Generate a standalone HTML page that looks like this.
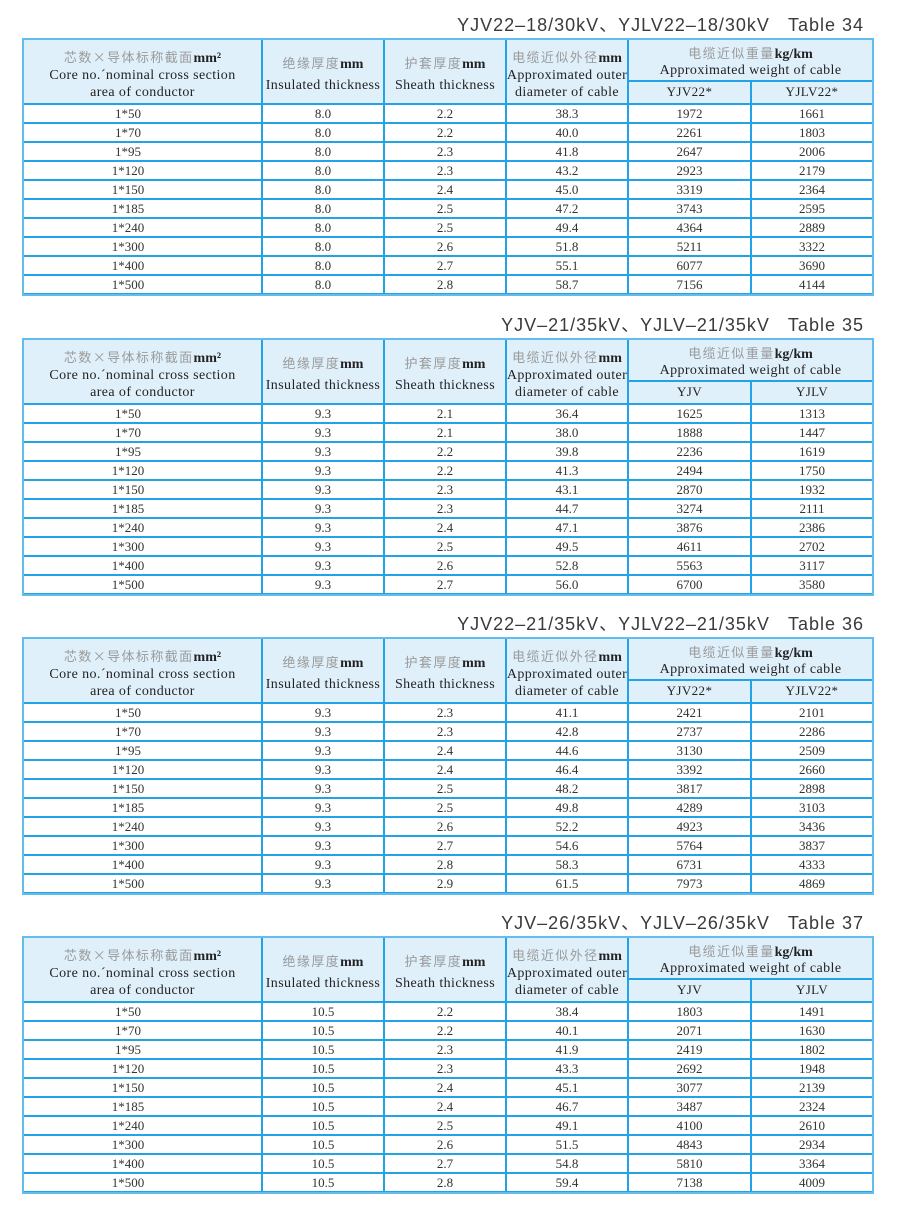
<!DOCTYPE html>
<html><head><meta charset="utf-8">
<style>
html,body{margin:0;padding:0;background:#fff}
body{width:900px;height:1210px;position:relative;overflow:hidden;font-family:"Liberation Serif","Noto Serif CJK SC",serif;color:#333}
.tb{position:absolute;left:0;width:900px;height:260px}
.ttl{position:absolute;right:36px;top:-23px;font-family:"Liberation Sans","Noto Sans CJK SC",sans-serif;font-size:18px;line-height:18px;letter-spacing:1px;color:#3a3a3a;white-space:nowrap}
.hd{position:absolute;left:23px;top:0;width:850px;height:65px;background:#e0f0fb}
.hl{position:absolute;left:23px;top:64px;width:850px;height:192px;background:repeating-linear-gradient(to bottom,#22a3e6 0,#22a3e6 2px,transparent 2px,transparent 19px)}
.v{position:absolute;top:0;height:256px;width:2px;background:#22a3e6}
.sub{position:absolute;left:628px;top:41px;width:245px;height:2px;background:#22a3e6}
.ob{position:absolute;left:22px;top:-1px;width:852px;height:258px;border:2px solid #62bdee;box-sizing:border-box}
.h{position:absolute;text-align:center;font-size:14px;letter-spacing:0.4px;color:#222;white-space:nowrap}
.cn{font-family:"Noto Sans CJK SC",sans-serif;color:#9a9a9a;font-size:13px;letter-spacing:1.4px}
.h b{font-weight:bold;color:#222;letter-spacing:0}
.h1{left:23px;width:239px;top:9px;line-height:17px}
.h2{left:262px;width:122px;top:13px;line-height:21px}
.h3{left:384px;width:122px;top:13px;line-height:21px}
.h4{left:506px;width:122px;top:9px;line-height:17px}
.h5{left:628px;width:245px;top:6px;line-height:16px}
.s1{left:628px;width:123px;top:42px;line-height:21px;font-size:13px}
.s2{left:751px;width:122px;top:42px;line-height:21px;font-size:13px}
.r{position:absolute;left:23px;height:19px;line-height:19px;display:grid;grid-template-columns:239px 122px 122px 122px 123px 122px;font-size:13px;color:#333;text-align:center}
.r span:first-child{padding-right:29px;box-sizing:border-box}
</style></head><body>

<!-- Table 34 -->
<div class="tb" style="top:39px">
<div class="ttl">YJV22–18/30kV、YJLV22–18/30kV&nbsp;&nbsp;&nbsp;Table 34</div>
<div class="hd"></div><div class="hl"></div>
<div class="v" style="left:261px"></div><div class="v" style="left:383px"></div><div class="v" style="left:505px"></div><div class="v" style="left:627px"></div><div class="v" style="left:750px;top:41px;height:215px"></div>
<div class="sub"></div><div class="ob"></div>
<div class="h h1"><span class="cn">芯数×导体标称截面</span><b>mm²</b><br>Core no.´nominal cross section<br>area of conductor</div>
<div class="h h2"><span class="cn">绝缘厚度</span><b>mm</b><br>Insulated thickness</div>
<div class="h h3"><span class="cn">护套厚度</span><b>mm</b><br>Sheath thickness</div>
<div class="h h4"><span class="cn">电缆近似外径</span><b>mm</b><br>Approximated outer<br>diameter of cable</div>
<div class="h h5"><span class="cn">电缆近似重量</span><b>kg/km</b><br>Approximated weight of cable</div>
<div class="h s1">YJV22*</div><div class="h s2">YJLV22*</div>
<div class="r" style="top:65px"><span>1*50</span><span>8.0</span><span>2.2</span><span>38.3</span><span>1972</span><span>1661</span></div>
<div class="r" style="top:84px"><span>1*70</span><span>8.0</span><span>2.2</span><span>40.0</span><span>2261</span><span>1803</span></div>
<div class="r" style="top:103px"><span>1*95</span><span>8.0</span><span>2.3</span><span>41.8</span><span>2647</span><span>2006</span></div>
<div class="r" style="top:122px"><span>1*120</span><span>8.0</span><span>2.3</span><span>43.2</span><span>2923</span><span>2179</span></div>
<div class="r" style="top:141px"><span>1*150</span><span>8.0</span><span>2.4</span><span>45.0</span><span>3319</span><span>2364</span></div>
<div class="r" style="top:160px"><span>1*185</span><span>8.0</span><span>2.5</span><span>47.2</span><span>3743</span><span>2595</span></div>
<div class="r" style="top:179px"><span>1*240</span><span>8.0</span><span>2.5</span><span>49.4</span><span>4364</span><span>2889</span></div>
<div class="r" style="top:198px"><span>1*300</span><span>8.0</span><span>2.6</span><span>51.8</span><span>5211</span><span>3322</span></div>
<div class="r" style="top:217px"><span>1*400</span><span>8.0</span><span>2.7</span><span>55.1</span><span>6077</span><span>3690</span></div>
<div class="r" style="top:236px"><span>1*500</span><span>8.0</span><span>2.8</span><span>58.7</span><span>7156</span><span>4144</span></div>
</div>

<!-- Table 35 -->
<div class="tb" style="top:339px">
<div class="ttl">YJV–21/35kV、YJLV–21/35kV&nbsp;&nbsp;&nbsp;Table 35</div>
<div class="hd"></div><div class="hl"></div>
<div class="v" style="left:261px"></div><div class="v" style="left:383px"></div><div class="v" style="left:505px"></div><div class="v" style="left:627px"></div><div class="v" style="left:750px;top:41px;height:215px"></div>
<div class="sub"></div><div class="ob"></div>
<div class="h h1"><span class="cn">芯数×导体标称截面</span><b>mm²</b><br>Core no.´nominal cross section<br>area of conductor</div>
<div class="h h2"><span class="cn">绝缘厚度</span><b>mm</b><br>Insulated thickness</div>
<div class="h h3"><span class="cn">护套厚度</span><b>mm</b><br>Sheath thickness</div>
<div class="h h4"><span class="cn">电缆近似外径</span><b>mm</b><br>Approximated outer<br>diameter of cable</div>
<div class="h h5"><span class="cn">电缆近似重量</span><b>kg/km</b><br>Approximated weight of cable</div>
<div class="h s1">YJV</div><div class="h s2">YJLV</div>
<div class="r" style="top:65px"><span>1*50</span><span>9.3</span><span>2.1</span><span>36.4</span><span>1625</span><span>1313</span></div>
<div class="r" style="top:84px"><span>1*70</span><span>9.3</span><span>2.1</span><span>38.0</span><span>1888</span><span>1447</span></div>
<div class="r" style="top:103px"><span>1*95</span><span>9.3</span><span>2.2</span><span>39.8</span><span>2236</span><span>1619</span></div>
<div class="r" style="top:122px"><span>1*120</span><span>9.3</span><span>2.2</span><span>41.3</span><span>2494</span><span>1750</span></div>
<div class="r" style="top:141px"><span>1*150</span><span>9.3</span><span>2.3</span><span>43.1</span><span>2870</span><span>1932</span></div>
<div class="r" style="top:160px"><span>1*185</span><span>9.3</span><span>2.3</span><span>44.7</span><span>3274</span><span>2111</span></div>
<div class="r" style="top:179px"><span>1*240</span><span>9.3</span><span>2.4</span><span>47.1</span><span>3876</span><span>2386</span></div>
<div class="r" style="top:198px"><span>1*300</span><span>9.3</span><span>2.5</span><span>49.5</span><span>4611</span><span>2702</span></div>
<div class="r" style="top:217px"><span>1*400</span><span>9.3</span><span>2.6</span><span>52.8</span><span>5563</span><span>3117</span></div>
<div class="r" style="top:236px"><span>1*500</span><span>9.3</span><span>2.7</span><span>56.0</span><span>6700</span><span>3580</span></div>
</div>

<!-- Table 36 -->
<div class="tb" style="top:638px">
<div class="ttl">YJV22–21/35kV、YJLV22–21/35kV&nbsp;&nbsp;&nbsp;Table 36</div>
<div class="hd"></div><div class="hl"></div>
<div class="v" style="left:261px"></div><div class="v" style="left:383px"></div><div class="v" style="left:505px"></div><div class="v" style="left:627px"></div><div class="v" style="left:750px;top:41px;height:215px"></div>
<div class="sub"></div><div class="ob"></div>
<div class="h h1"><span class="cn">芯数×导体标称截面</span><b>mm²</b><br>Core no.´nominal cross section<br>area of conductor</div>
<div class="h h2"><span class="cn">绝缘厚度</span><b>mm</b><br>Insulated thickness</div>
<div class="h h3"><span class="cn">护套厚度</span><b>mm</b><br>Sheath thickness</div>
<div class="h h4"><span class="cn">电缆近似外径</span><b>mm</b><br>Approximated outer<br>diameter of cable</div>
<div class="h h5"><span class="cn">电缆近似重量</span><b>kg/km</b><br>Approximated weight of cable</div>
<div class="h s1">YJV22*</div><div class="h s2">YJLV22*</div>
<div class="r" style="top:65px"><span>1*50</span><span>9.3</span><span>2.3</span><span>41.1</span><span>2421</span><span>2101</span></div>
<div class="r" style="top:84px"><span>1*70</span><span>9.3</span><span>2.3</span><span>42.8</span><span>2737</span><span>2286</span></div>
<div class="r" style="top:103px"><span>1*95</span><span>9.3</span><span>2.4</span><span>44.6</span><span>3130</span><span>2509</span></div>
<div class="r" style="top:122px"><span>1*120</span><span>9.3</span><span>2.4</span><span>46.4</span><span>3392</span><span>2660</span></div>
<div class="r" style="top:141px"><span>1*150</span><span>9.3</span><span>2.5</span><span>48.2</span><span>3817</span><span>2898</span></div>
<div class="r" style="top:160px"><span>1*185</span><span>9.3</span><span>2.5</span><span>49.8</span><span>4289</span><span>3103</span></div>
<div class="r" style="top:179px"><span>1*240</span><span>9.3</span><span>2.6</span><span>52.2</span><span>4923</span><span>3436</span></div>
<div class="r" style="top:198px"><span>1*300</span><span>9.3</span><span>2.7</span><span>54.6</span><span>5764</span><span>3837</span></div>
<div class="r" style="top:217px"><span>1*400</span><span>9.3</span><span>2.8</span><span>58.3</span><span>6731</span><span>4333</span></div>
<div class="r" style="top:236px"><span>1*500</span><span>9.3</span><span>2.9</span><span>61.5</span><span>7973</span><span>4869</span></div>
</div>

<!-- Table 37 -->
<div class="tb" style="top:937px">
<div class="ttl">YJV–26/35kV、YJLV–26/35kV&nbsp;&nbsp;&nbsp;Table 37</div>
<div class="hd"></div><div class="hl"></div>
<div class="v" style="left:261px"></div><div class="v" style="left:383px"></div><div class="v" style="left:505px"></div><div class="v" style="left:627px"></div><div class="v" style="left:750px;top:41px;height:215px"></div>
<div class="sub"></div><div class="ob"></div>
<div class="h h1"><span class="cn">芯数×导体标称截面</span><b>mm²</b><br>Core no.´nominal cross section<br>area of conductor</div>
<div class="h h2"><span class="cn">绝缘厚度</span><b>mm</b><br>Insulated thickness</div>
<div class="h h3"><span class="cn">护套厚度</span><b>mm</b><br>Sheath thickness</div>
<div class="h h4"><span class="cn">电缆近似外径</span><b>mm</b><br>Approximated outer<br>diameter of cable</div>
<div class="h h5"><span class="cn">电缆近似重量</span><b>kg/km</b><br>Approximated weight of cable</div>
<div class="h s1">YJV</div><div class="h s2">YJLV</div>
<div class="r" style="top:65px"><span>1*50</span><span>10.5</span><span>2.2</span><span>38.4</span><span>1803</span><span>1491</span></div>
<div class="r" style="top:84px"><span>1*70</span><span>10.5</span><span>2.2</span><span>40.1</span><span>2071</span><span>1630</span></div>
<div class="r" style="top:103px"><span>1*95</span><span>10.5</span><span>2.3</span><span>41.9</span><span>2419</span><span>1802</span></div>
<div class="r" style="top:122px"><span>1*120</span><span>10.5</span><span>2.3</span><span>43.3</span><span>2692</span><span>1948</span></div>
<div class="r" style="top:141px"><span>1*150</span><span>10.5</span><span>2.4</span><span>45.1</span><span>3077</span><span>2139</span></div>
<div class="r" style="top:160px"><span>1*185</span><span>10.5</span><span>2.4</span><span>46.7</span><span>3487</span><span>2324</span></div>
<div class="r" style="top:179px"><span>1*240</span><span>10.5</span><span>2.5</span><span>49.1</span><span>4100</span><span>2610</span></div>
<div class="r" style="top:198px"><span>1*300</span><span>10.5</span><span>2.6</span><span>51.5</span><span>4843</span><span>2934</span></div>
<div class="r" style="top:217px"><span>1*400</span><span>10.5</span><span>2.7</span><span>54.8</span><span>5810</span><span>3364</span></div>
<div class="r" style="top:236px"><span>1*500</span><span>10.5</span><span>2.8</span><span>59.4</span><span>7138</span><span>4009</span></div>
</div>

</body></html>
